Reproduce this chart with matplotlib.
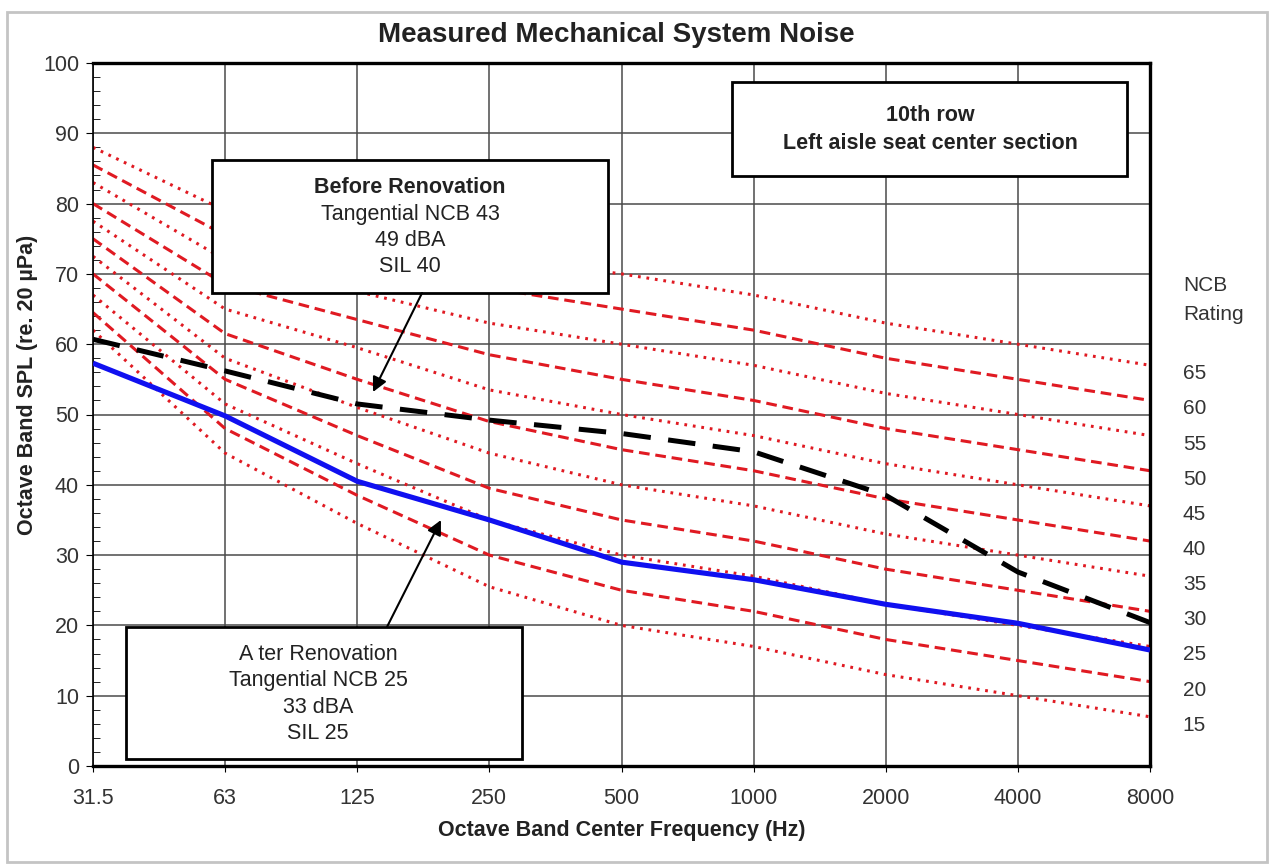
import matplotlib
matplotlib.use("Agg")
import matplotlib.pyplot as plt
from matplotlib.patches import Rectangle
from matplotlib.ticker import MultipleLocator

plt.rcParams['font.family'] = ['Liberation Sans', 'DejaVu Sans']

# octave band centre frequencies
bands = ['31.5', '63', '125', '250', '500', '1000', '2000', '4000', '8000']

# NCB reference curves (dB)
ncb_ratings = [65, 60, 55, 50, 45, 40, 35, 30, 25, 20, 15]
ncb_65 = [88, 79, 76, 72.5, 70, 67, 63, 60, 57]
ncb_60 = [85.5, 75.5, 72, 68, 65, 62, 58, 55, 52]
ncb_55 = [83, 72, 67.5, 63, 60, 57, 53, 50, 47]
ncb_50 = [80, 68.5, 63.5, 58.5, 55, 52, 48, 45, 42]
ncb_45 = [77.5, 65, 59.5, 53.5, 50, 47, 43, 40, 37]
ncb_40 = [75, 61.5, 55, 49, 45, 42, 38, 35, 32]
ncb_35 = [72.5, 58, 51, 44.5, 40, 37, 33, 30, 27]
ncb_30 = [70, 55, 47, 39.5, 35, 32, 28, 25, 22]
ncb_25 = [67, 51.5, 43, 35, 30, 27, 23, 20, 17]
ncb_20 = [64.5, 48, 38.5, 30, 25, 22, 18, 15, 12]
ncb_15 = [62, 44.5, 34.5, 25.5, 20, 17, 13, 10, 7]
ncb_curves = [ncb_65, ncb_60, ncb_55, ncb_50, ncb_45, ncb_40,
              ncb_35, ncb_30, ncb_25, ncb_20, ncb_15]

# measured spectra
before = [60.7, 56.2, 51.5, 49.2, 47.3, 44.7, 38.5, 27.6, 20.4]
after = [57.3, 49.8, 40.5, 35.0, 29.0, 26.5, 23.0, 20.3, 16.5]

W, H = 1273, 867
fig = plt.figure(figsize=(W / 100, H / 100), dpi=100)
ax = fig.add_axes([93 / W, 1 - 766 / H, (1150 - 93) / W, (766 - 63) / H])

x = list(range(len(bands)))
red = '#e01a22'
for i, curve in enumerate(ncb_curves):
    if i % 2 == 0:
        ax.plot(x, curve, color=red, lw=2.2, dashes=(0.9, 1.9), zorder=2)
    else:
        ax.plot(x, curve, color=red, lw=2.2, dashes=(3.5, 1.9), zorder=2)

ax.plot(x, after, color='#1010f0', lw=3.7, zorder=3, solid_capstyle='butt')
ax.plot(x, before, color='black', lw=3.6, dashes=(5.5, 3.5), zorder=4)

ax.set_xlim(0, len(bands) - 1)
ax.set_ylim(0, 100)
ax.set_xticks(x)
ax.set_xticklabels(bands)
ax.yaxis.set_major_locator(MultipleLocator(10))
ax.yaxis.set_minor_locator(MultipleLocator(2))
ax.grid(True, which='major', color='#4a4a4a', lw=1.1, zorder=1)
ax.set_axisbelow(True)

ax.tick_params(axis='both', which='major', labelsize=15.5, labelcolor='#333333')
ax.tick_params(axis='y', which='major', direction='out', length=5, pad=5)
ax.tick_params(axis='y', which='minor', direction='in', length=5)
ax.tick_params(axis='x', which='major', direction='out', length=4, pad=12)

for side in ['top', 'right', 'bottom']:
    ax.spines[side].set_linewidth(2.4)
ax.spines['left'].set_linewidth(1.2)

ax.set_xlabel('Octave Band Center Frequency (Hz)', fontsize=15.5,
              fontweight='bold', labelpad=8, color='#222222')

fig.text(616 / W, 1 - 42 / H, 'Measured Mechanical System Noise',
         ha='center', va='baseline', fontsize=20, fontweight='bold', color='#222222')
fig.text(28 / W, 1 - 385 / H, 'Octave Band SPL (re. 20 \u00b5Pa)', rotation=90,
         ha='center', va='center', fontsize=15.5, fontweight='bold', color='#222222')

# NCB rating labels on the right
tr = ax.get_yaxis_transform()
ax.text(1.031, 68.4, 'NCB', transform=tr, fontsize=15, va='center', color='#333333')
ax.text(1.031, 64.2, 'Rating', transform=tr, fontsize=15, va='center', color='#333333')
for r in ncb_ratings:
    ax.text(1.031, r - 9.2, str(r), transform=tr, fontsize=15, va='center',
            color='#333333')


def text_box(x0, y0, x1, y1):
    ax.add_patch(Rectangle((x0, y0), x1 - x0, y1 - y0, transform=ax.transAxes,
                           facecolor='white', edgecolor='black', lw=2, zorder=6,
                           clip_on=False))


# location box
text_box(0.6045, 0.839, 0.9782, 0.973)
ax.text(0.7919, 0.926, '10th row', transform=ax.transAxes, ha='center', va='center',
        fontsize=15.5, fontweight='bold', zorder=7, color='#222222')
ax.text(0.7919, 0.886, 'Left aisle seat center section', transform=ax.transAxes,
        ha='center', va='center', fontsize=15.5, fontweight='bold', zorder=7,
        color='#222222')

# before renovation box
text_box(0.1126, 0.673, 0.487, 0.862)
before_lines = ['Before Renovation', 'Tangential NCB 43', '49 dBA', 'SIL 40']
before_y = [0.8236, 0.785, 0.7468, 0.7112]
for j, (s, yy) in enumerate(zip(before_lines, before_y)):
    ax.text(0.2999, yy, s, transform=ax.transAxes, ha='center', va='center',
            fontsize=15.5, fontweight='bold' if j == 0 else 'normal', zorder=7,
            color='#222222')
ax.annotate('', xy=(0.2649, 0.532), xytext=(0.3113, 0.6728),
            xycoords='axes fraction', textcoords='axes fraction',
            arrowprops=dict(arrowstyle='-|>', color='black', lw=1.5,
                            mutation_scale=22, shrinkA=0, shrinkB=0), zorder=7)

# after renovation box
text_box(0.0312, 0.01, 0.4059, 0.1977)
after_lines = ['A ter Renovation', 'Tangential NCB 25', '33 dBA', 'SIL 25']
after_y = [0.1579, 0.1223, 0.0839, 0.0469]
for s, yy in zip(after_lines, after_y):
    ax.text(0.2129, yy, s, transform=ax.transAxes, ha='center', va='center',
            fontsize=15.5, zorder=7, color='#222222')
ax.annotate('', xy=(0.3292, 0.3499), xytext=(0.2781, 0.1977),
            xycoords='axes fraction', textcoords='axes fraction',
            arrowprops=dict(arrowstyle='-|>', color='black', lw=1.5,
                            mutation_scale=22, shrinkA=0, shrinkB=0), zorder=7)

# light frame around the picture
fig.patches.append(Rectangle((7 / W, 5 / H), 1260 / W, 850 / H, transform=fig.transFigure,
                             fill=False, edgecolor='#c4c4c4', lw=2))

fig.savefig('out.png', dpi=100)
